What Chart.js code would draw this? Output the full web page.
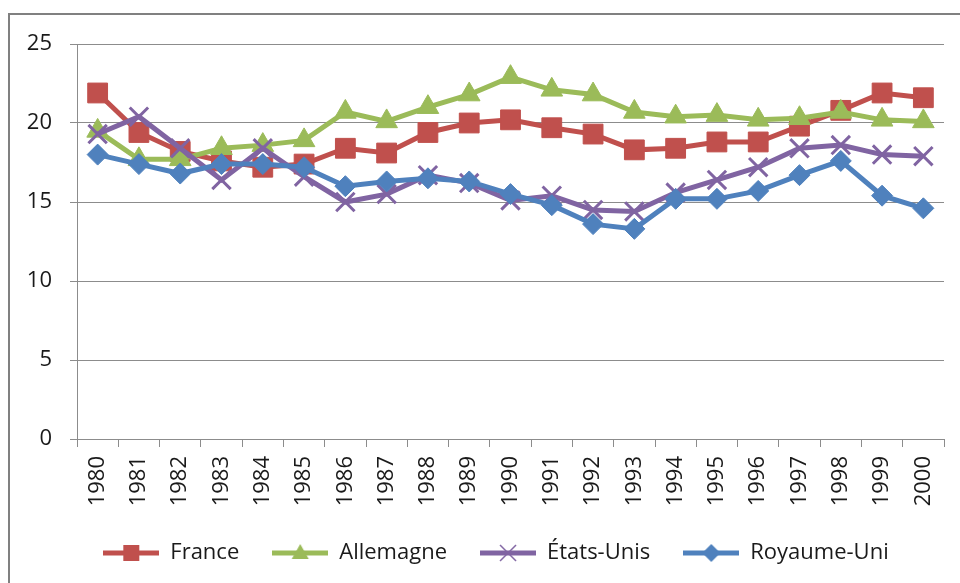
<!DOCTYPE html>
<html>
<head>
<meta charset="utf-8">
<script src="https://cdn.jsdelivr.net/npm/chart.js@4/dist/chart.umd.min.js"></script>
<style>
  html, body { margin: 0; padding: 0; background: #ffffff; }
  #wrap { width: 960px; height: 583px; position: relative; }
</style>
</head>
<body>
<div id="wrap"><canvas id="c" width="960" height="583"></canvas></div>
<script>
const years = ['1980','1981','1982','1983','1984','1985','1986','1987','1988','1989','1990',
               '1991','1992','1993','1994','1995','1996','1997','1998','1999','2000'];
const france     = [21.9, 19.4, 18.2, 17.6, 17.2, 17.4, 18.4, 18.1, 19.4, 20.0, 20.2, 19.7, 19.3, 18.3, 18.4, 18.8, 18.8, 19.8, 20.8, 21.9, 21.6];
const allemagne  = [19.5, 17.7, 17.7, 18.4, 18.6, 18.9, 20.7, 20.1, 21.0, 21.8, 22.9, 22.1, 21.8, 20.7, 20.4, 20.5, 20.2, 20.3, 20.7, 20.2, 20.1];
const etatsUnis  = [19.3, 20.4, 18.4, 16.4, 18.4, 16.6, 15.0, 15.5, 16.7, 16.2, 15.1, 15.4, 14.5, 14.4, 15.6, 16.4, 17.2, 18.4, 18.6, 18.0, 17.9];
const royaumeUni = [18.0, 17.4, 16.8, 17.4, 17.4, 17.2, 16.0, 16.3, 16.5, 16.3, 15.5, 14.8, 13.6, 13.3, 15.2, 15.2, 15.7, 16.7, 17.6, 15.4, 14.6];
const seriesNames = ['France', 'Allemagne', 'États-Unis', 'Royaume-Uni'];
const yTicks = [0, 5, 10, 15, 20, 25];

const colors = ['#C0504D', '#9BBB59', '#8064A2', '#4F81BD'];
const styles = ['rect', 'triangle', 'crossRot', 'rectRot'];
const radii  = [14, 12.5, 13, 10.5];
const FONT = '"Open Sans", "DejaVu Sans", sans-serif';

function legendIcon(color, style) {
  const w = 56, h = 24;
  const c = document.createElement('canvas');
  c.width = w; c.height = h;
  const x = c.getContext('2d');
  const cy = h / 2, cx = w / 2;
  x.strokeStyle = color; x.fillStyle = color;
  x.lineWidth = 5;
  x.beginPath(); x.moveTo(0, cy); x.lineTo(w, cy); x.stroke();
  x.beginPath();
  if (style === 'rect') {
    x.rect(cx - 8, cy - 8, 16, 16); x.fill();
  } else if (style === 'triangle') {
    x.moveTo(cx, cy - 9); x.lineTo(cx + 8.5, cy + 6); x.lineTo(cx - 8.5, cy + 6); x.closePath(); x.fill();
  } else if (style === 'rectRot') {
    x.moveTo(cx, cy - 9); x.lineTo(cx + 9, cy); x.lineTo(cx, cy + 9); x.lineTo(cx - 9, cy); x.closePath(); x.fill();
  } else if (style === 'crossRot') {
    x.lineWidth = 1.5;
    x.moveTo(cx - 8, cy - 8); x.lineTo(cx + 8, cy + 8);
    x.moveTo(cx + 8, cy - 8); x.lineTo(cx - 8, cy + 8); x.stroke();
  }
  return c;
}

const allData = [france, allemagne, etatsUnis, royaumeUni];
const datasets = allData.map((d, i) => ({
  label: seriesNames[i],
  data: d,
  borderColor: colors[i],
  backgroundColor: colors[i],
  borderWidth: 5,
  pointStyle: styles[i],
  pointRadius: radii[i],
  pointBorderWidth: styles[i] === 'crossRot' ? 3 : 1,
  pointBackgroundColor: colors[i],
  pointBorderColor: colors[i],
  tension: 0,
  order: 4 - i
}));

const framePlugin = {
  id: 'frame',
  beforeDraw(chart) {
    const ctx = chart.ctx;
    ctx.save();
    ctx.strokeStyle = '#808080';
    ctx.lineWidth = 2;
    ctx.beginPath();
    ctx.moveTo(9, 583); ctx.lineTo(9, 14); ctx.lineTo(960, 14);
    ctx.stroke();
    ctx.restore();
  }
};

const legendShift = {
  id: 'legendShift',
  afterLayout(chart) {
    const lg = chart.legend;
    if (!lg) return;
    const dx = 18, dy = -9;
    lg.left += dx; lg.right += dx;
    lg.top += dy; lg.bottom += dy;
  }
};

new Chart(document.getElementById('c'), {
  type: 'line',
  data: { labels: years, datasets },
  plugins: [framePlugin, legendShift],
  options: {
    responsive: false,
    animation: false,
    layout: { padding: { left: 10, right: 14, top: 44, bottom: 0 } },
    plugins: {
      tooltip: { enabled: false },
      legend: {
        position: 'bottom',
        labels: {
          usePointStyle: true,
          pointStyleWidth: 56,
          padding: 33,
          color: '#1a1a1a',
          font: { family: FONT, size: 22 },
          generateLabels(chart) {
            return chart.data.datasets.map((ds, i) => ({
              text: ds.label,
              pointStyle: legendIcon(colors[i], styles[i]),
              fillStyle: colors[i],
              strokeStyle: colors[i],
              lineWidth: 0,
              hidden: false,
              datasetIndex: i,
              fontColor: '#1a1a1a'
            }));
          }
        }
      }
    },
    scales: {
      x: {
        type: 'category',
        offset: true,
        afterFit(scale) { scale.height = 79; },
        grid: {
          display: true,
          offset: true,
          drawOnChartArea: false,
          drawTicks: true,
          tickLength: 8,
          color: '#8c8c8c',
          lineWidth: 1
        },
        border: { display: true, color: '#8c8c8c', width: 1 },
        ticks: {
          autoSkip: false,
          minRotation: 90,
          maxRotation: 90,
          padding: 9,
          color: '#1a1a1a',
          font: { family: FONT, size: 22 }
        }
      },
      y: {
        min: 0,
        max: 25,
        afterFit(scale) { scale.width = 67; },
        afterBuildTicks(scale) { scale.ticks = yTicks.map(v => ({ value: v })); },
        grid: {
          color: '#8c8c8c',
          lineWidth: 1,
          drawTicks: true,
          tickLength: 7
        },
        border: { display: true, color: '#8c8c8c', width: 1 },
        ticks: {
          padding: 18,
          color: '#1a1a1a',
          font: { family: FONT, size: 22 }
        }
      }
    }
  }
});
</script>
</body>
</html>
